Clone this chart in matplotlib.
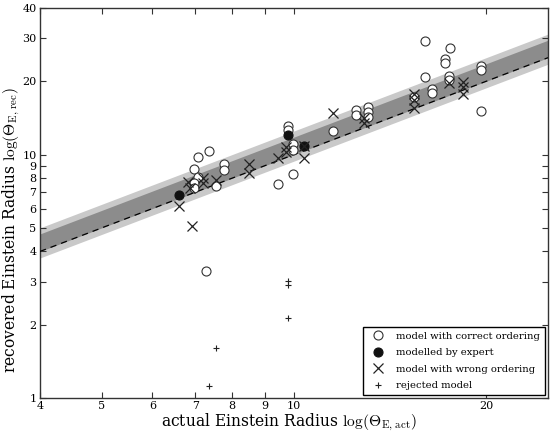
import matplotlib
matplotlib.use('Agg')
import matplotlib.pyplot as plt
import numpy as np
from matplotlib.ticker import FixedLocator, NullLocator, FixedFormatter

plt.rcParams.update({'font.family': 'DejaVu Serif',
                     'mathtext.fontset': 'cm',
                     'axes.linewidth': 1.0,
                     'axes.edgecolor': '#333333'})

# data
correct_x = [7.35, 7.06, 6.96, 7.06, 6.96, 6.96, 7.78, 7.78, 7.56, 9.43, 9.95,
             9.77, 9.77, 9.95, 9.95, 11.5, 12.5, 12.5, 13.05, 13.05, 13.05,
             15.42, 16.04, 16.04, 16.46, 16.46, 17.56, 17.25, 17.25, 17.5,
             17.5, 19.65, 19.65, 19.65, 7.29]
correct_y = [10.3, 9.78, 8.73, 8.09, 7.64, 7.29, 9.15, 8.65, 7.43, 7.57, 8.32,
             13.1, 12.6, 11.1, 10.4, 12.5, 15.3, 14.5, 15.7, 15.0, 14.3,
             17.2, 29.3, 20.8, 18.6, 17.9, 27.4, 24.7, 23.8, 21.0,
             20.3, 23.1, 22.3, 15.1, 3.32]

expert_x = [6.61, 9.77, 10.36]
expert_y = [6.82, 12.0, 10.8]

wrong_x = [6.61, 6.93, 6.83, 6.88, 7.21, 7.21, 7.56, 8.49, 8.49, 9.43, 9.70,
           9.70, 10.36, 10.36, 11.5, 12.86, 12.86, 15.42, 15.42, 15.42,
           17.5, 18.41, 18.41, 18.41]
wrong_y = [6.15, 5.09, 7.72, 7.29, 8.01, 7.64, 7.87, 9.15, 8.40, 9.68, 10.7,
           10.2, 10.8, 9.68, 14.8, 14.1, 13.5, 17.7, 16.8, 15.5,
           19.7, 19.9, 19.0, 17.7]

rejected_x = [9.77, 9.77, 9.77, 7.56, 7.35]
rejected_y = [3.02, 2.91, 2.13, 1.60, 1.12]

x_ticks = [4, 5, 6, 7, 8, 9, 10, 20]
y_ticks = [1, 2, 3, 4, 5, 6, 7, 8, 9, 10, 20, 30, 40]

xlim = (4, 25)
ylim = (1, 40)

fig = plt.figure(figsize=(5.51, 4.32), dpi=100)
fig.subplots_adjust(left=0.0726, right=0.9946, top=0.9815, bottom=0.0787)
ax = fig.add_subplot(111)
ax.set_xscale('log')
ax.set_yscale('log')

# one-to-one line with uncertainty bands
xb = np.array(xlim, dtype=float)
ax.fill_between(xb, 0.94 * xb, 1.25 * xb, color='#c9c9c9', lw=0, zorder=1)
ax.fill_between(xb, 1.0 * xb, 1.18 * xb, color='#8c8c8c', lw=0, zorder=2)
ax.plot(xb, xb, ls=(0, (5, 4)), color='black', lw=0.9, zorder=3)

ax.plot(correct_x, correct_y, 'o', ms=6.5, mfc='white', mec='#333333', mew=0.8,
        label='model with correct ordering', zorder=4)
ax.plot(expert_x, expert_y, 'o', ms=6.5, mfc='#111111', mec='#111111', mew=0.8,
        label='modelled by expert', zorder=5)
ax.plot(wrong_x, wrong_y, 'x', ms=7, color='#222222', mew=0.9,
        label='model with wrong ordering', zorder=6)
ax.plot(rejected_x, rejected_y, '+', ms=5, color='#222222', mew=0.8,
        label='rejected model', zorder=6)

ax.set_xlim(*xlim)
ax.set_ylim(*ylim)
ax.xaxis.set_major_locator(FixedLocator(x_ticks))
ax.xaxis.set_major_formatter(FixedFormatter([str(t) for t in x_ticks]))
ax.xaxis.set_minor_locator(NullLocator())
ax.yaxis.set_major_locator(FixedLocator(y_ticks))
ax.yaxis.set_major_formatter(FixedFormatter([str(t) for t in y_ticks]))
ax.yaxis.set_minor_locator(NullLocator())
ax.tick_params(which='both', direction='in', top=True, right=True,
               length=4, width=0.8, labelsize=8, pad=2.5, colors='#333333',
               labelcolor='black')

ax.set_xlabel(r'actual Einstein Radius $\log(\Theta_{\rm E,\,act})$', fontsize=11.2)
ax.set_ylabel(r'recovered Einstein Radius $\log(\Theta_{\rm E,\,rec})$', fontsize=11.2)
ax.xaxis.set_label_coords(0.49, -0.036)
ax.yaxis.set_label_coords(-0.036, 0.43)

leg = ax.legend(loc='lower right', fontsize=7.2, frameon=True, fancybox=False,
                edgecolor='black', framealpha=1, borderaxespad=0.3,
                handletextpad=0.8, labelspacing=0.75, borderpad=0.5)
leg.get_frame().set_linewidth(1.0)

plt.savefig('out.png', dpi=100)
